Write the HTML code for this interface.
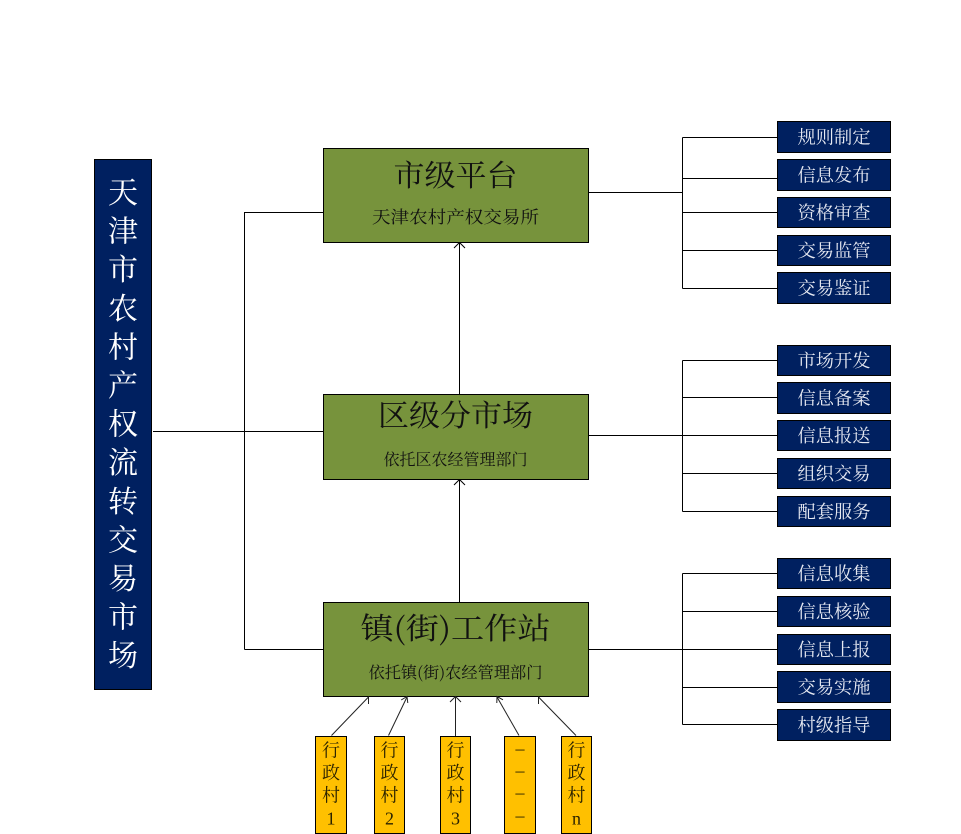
<!DOCTYPE html>
<html>
<head>
<meta charset="utf-8">
<style>
  html, body { margin:0; padding:0; background:#ffffff; }
  svg { display:block; }
</style>
</head>
<body>
<svg width="961" height="834" viewBox="0 0 961 834" xmlns="http://www.w3.org/2000/svg">
  <rect x="0" y="0" width="961" height="834" fill="#ffffff"/>

  <!-- Left vertical title box -->
  <rect x="94.5" y="159.5" width="57" height="530" fill="#002060" stroke="#000" stroke-width="1"/>
  <g font-family="'Noto Serif CJK SC', serif" font-size="30" fill="#ffffff" text-anchor="middle">
    <text x="123" y="203">天</text>
    <text x="123" y="241.6">津</text>
    <text x="123" y="280.2">市</text>
    <text x="123" y="318.8">农</text>
    <text x="123" y="357.4">村</text>
    <text x="123" y="396">产</text>
    <text x="123" y="434.6">权</text>
    <text x="123" y="473.2">流</text>
    <text x="123" y="511.8">转</text>
    <text x="123" y="550.4">交</text>
    <text x="123" y="589">易</text>
    <text x="123" y="627.6">市</text>
    <text x="123" y="666.2">场</text>
  </g>

  <!-- Left connectors -->
  <g stroke="#000" stroke-width="1" fill="none">
    <line x1="153" y1="431.5" x2="323" y2="431.5"/>
    <line x1="244.5" y1="212" x2="244.5" y2="649.5"/>
    <line x1="244.5" y1="212.5" x2="323" y2="212.5"/>
    <line x1="244.5" y1="649.5" x2="323" y2="649.5"/>
  </g>

  <!-- Vertical arrows between green boxes -->
  <g stroke="#000" stroke-width="1" fill="none">
    <line x1="459.5" y1="394" x2="459.5" y2="243"/>
    <polyline points="454,248 459.5,242.5 465,248"/>
    <line x1="459.5" y1="602" x2="459.5" y2="480"/>
    <polyline points="454,485 459.5,479.5 465,485"/>
  </g>

  <!-- Green boxes -->
  <rect x="323.5" y="148.5" width="265" height="94" fill="#77933C" stroke="#000" stroke-width="1"/>
  <rect x="323.5" y="394.5" width="265" height="85" fill="#77933C" stroke="#000" stroke-width="1"/>
  <rect x="323.5" y="602.5" width="265" height="94" fill="#77933C" stroke="#000" stroke-width="1"/>

  <g font-family="'Noto Serif CJK SC', serif" fill="#111" text-anchor="middle">
    <text x="455.5" y="186" font-size="30" textLength="124" lengthAdjust="spacingAndGlyphs">市级平台</text>
    <text x="455.5" y="223" font-size="17" textLength="167" lengthAdjust="spacingAndGlyphs">天津农村产权交易所</text>
    <text x="455.5" y="426" font-size="30" textLength="155" lengthAdjust="spacingAndGlyphs">区级分市场</text>
    <text x="455.5" y="465" font-size="16" textLength="144" lengthAdjust="spacingAndGlyphs">依托区农经管理部门</text>
    <text x="455.5" y="639" font-size="30" textLength="190" lengthAdjust="spacingAndGlyphs">镇(街)工作站</text>
    <text x="455.5" y="678" font-size="16" textLength="174" lengthAdjust="spacingAndGlyphs">依托镇(街)农经管理部门</text>
  </g>

  <!-- Right connectors group 1 -->
  <g stroke="#000" stroke-width="1" fill="none">
    <line x1="588" y1="192.5" x2="682.5" y2="192.5"/>
    <line x1="682.5" y1="137.5" x2="682.5" y2="288.5"/>
    <line x1="682.5" y1="137.5" x2="777" y2="137.5"/>
    <line x1="682.5" y1="178.5" x2="777" y2="178.5"/>
    <line x1="682.5" y1="212.5" x2="777" y2="212.5"/>
    <line x1="682.5" y1="250.5" x2="777" y2="250.5"/>
    <line x1="682.5" y1="288.5" x2="777" y2="288.5"/>
  </g>
  <!-- group 2 -->
  <g stroke="#000" stroke-width="1" fill="none">
    <line x1="588" y1="435.5" x2="682.5" y2="435.5"/>
    <line x1="682.5" y1="360.5" x2="682.5" y2="511.5"/>
    <line x1="682.5" y1="360.5" x2="777" y2="360.5"/>
    <line x1="682.5" y1="397.5" x2="777" y2="397.5"/>
    <line x1="682.5" y1="435.5" x2="777" y2="435.5"/>
    <line x1="682.5" y1="473.5" x2="777" y2="473.5"/>
    <line x1="682.5" y1="511.5" x2="777" y2="511.5"/>
  </g>
  <!-- group 3 -->
  <g stroke="#000" stroke-width="1" fill="none">
    <line x1="588" y1="649.5" x2="682.5" y2="649.5"/>
    <line x1="682.5" y1="573.5" x2="682.5" y2="724.5"/>
    <line x1="682.5" y1="573.5" x2="777" y2="573.5"/>
    <line x1="682.5" y1="611.5" x2="777" y2="611.5"/>
    <line x1="682.5" y1="649.5" x2="777" y2="649.5"/>
    <line x1="682.5" y1="687.5" x2="777" y2="687.5"/>
    <line x1="682.5" y1="724.5" x2="777" y2="724.5"/>
  </g>

  <!-- Right blue boxes -->
  <g fill="#002060" stroke="#000" stroke-width="1">
    <rect x="777.5" y="121.5" width="113" height="31"/>
    <rect x="777.5" y="159.5" width="113" height="31"/>
    <rect x="777.5" y="197.5" width="113" height="30"/>
    <rect x="777.5" y="235.5" width="113" height="30"/>
    <rect x="777.5" y="272.5" width="113" height="31"/>

    <rect x="777.5" y="345.5" width="113" height="30"/>
    <rect x="777.5" y="382.5" width="113" height="31"/>
    <rect x="777.5" y="420.5" width="113" height="30"/>
    <rect x="777.5" y="458.5" width="113" height="30"/>
    <rect x="777.5" y="496.5" width="113" height="30"/>

    <rect x="777.5" y="558.5" width="113" height="30"/>
    <rect x="777.5" y="596.5" width="113" height="30"/>
    <rect x="777.5" y="634.5" width="113" height="30"/>
    <rect x="777.5" y="671.5" width="113" height="31"/>
    <rect x="777.5" y="709.5" width="113" height="31"/>
  </g>
  <g font-family="'Noto Serif CJK SC', serif" font-size="18" fill="#e6e9f2" text-anchor="middle">
    <text x="834" y="143.5" textLength="73" lengthAdjust="spacingAndGlyphs">规则制定</text>
    <text x="834" y="181.5" textLength="73" lengthAdjust="spacingAndGlyphs">信息发布</text>
    <text x="834" y="219" textLength="73" lengthAdjust="spacingAndGlyphs">资格审查</text>
    <text x="834" y="257" textLength="73" lengthAdjust="spacingAndGlyphs">交易监管</text>
    <text x="834" y="294.5" textLength="73" lengthAdjust="spacingAndGlyphs">交易鉴证</text>

    <text x="834" y="367" textLength="73" lengthAdjust="spacingAndGlyphs">市场开发</text>
    <text x="834" y="404.5" textLength="73" lengthAdjust="spacingAndGlyphs">信息备案</text>
    <text x="834" y="442" textLength="73" lengthAdjust="spacingAndGlyphs">信息报送</text>
    <text x="834" y="480" textLength="73" lengthAdjust="spacingAndGlyphs">组织交易</text>
    <text x="834" y="518" textLength="73" lengthAdjust="spacingAndGlyphs">配套服务</text>

    <text x="834" y="580" textLength="73" lengthAdjust="spacingAndGlyphs">信息收集</text>
    <text x="834" y="618" textLength="73" lengthAdjust="spacingAndGlyphs">信息核验</text>
    <text x="834" y="656" textLength="73" lengthAdjust="spacingAndGlyphs">信息上报</text>
    <text x="834" y="693.5" textLength="73" lengthAdjust="spacingAndGlyphs">交易实施</text>
    <text x="834" y="731.5" textLength="73" lengthAdjust="spacingAndGlyphs">村级指导</text>
  </g>

  <!-- Village arrows -->
  <g stroke="#222" stroke-width="1" fill="none">
    <line x1="331.5" y1="735.5" x2="368.5" y2="697"/>
    <line x1="368.5" y1="696.5" x2="368.5" y2="704"/>

    <line x1="388.5" y1="735.5" x2="407" y2="697"/>
    <polyline points="401.2,700 407,696.5 407.8,703"/>

    <line x1="455.5" y1="736" x2="455.5" y2="697"/>
    <polyline points="450,702 455.5,696.5 461,702"/>

    <line x1="519" y1="735.5" x2="497" y2="697"/>
    <polyline points="496.8,703 497,696.5 503,699.8"/>

    <line x1="576" y1="735.5" x2="538.5" y2="697"/>
    <line x1="538.5" y1="696.5" x2="538.5" y2="704"/>
  </g>

  <!-- Village boxes -->
  <g fill="#FFC000" stroke="#000" stroke-width="1">
    <rect x="315.5" y="736.5" width="31" height="97"/>
    <rect x="374.5" y="736.5" width="30" height="97"/>
    <rect x="440.5" y="736.5" width="30" height="97"/>
    <rect x="504.5" y="736.5" width="31" height="97"/>
    <rect x="561.5" y="736.5" width="30" height="97"/>
  </g>
  <g font-family="'Liberation Serif', 'Noto Serif CJK SC', serif" font-size="18" fill="#2a2200" text-anchor="middle">
    <text x="331" y="756.5">行</text>
    <text x="331" y="779">政</text>
    <text x="331" y="801.5">村</text>
    <text x="331" y="824.5">1</text>

    <text x="389.5" y="756.5">行</text>
    <text x="389.5" y="779">政</text>
    <text x="389.5" y="801.5">村</text>
    <text x="389.5" y="824.5">2</text>

    <text x="455.5" y="756.5">行</text>
    <text x="455.5" y="779">政</text>
    <text x="455.5" y="801.5">村</text>
    <text x="455.5" y="824.5">3</text>

    <text x="520" y="754.5">–</text>
    <text x="520" y="776.5">–</text>
    <text x="520" y="798.5">–</text>
    <text x="520" y="821.5">–</text>

    <text x="576.5" y="756.5">行</text>
    <text x="576.5" y="779">政</text>
    <text x="576.5" y="801.5">村</text>
    <text x="576.5" y="824.5">n</text>
  </g>
</svg>
</body>
</html>
